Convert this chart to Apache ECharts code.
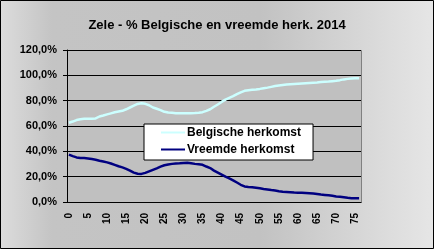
<!DOCTYPE html>
<html><head><meta charset="utf-8">
<script src="https://cdn.jsdelivr.net/npm/echarts@6/dist/echarts.min.js"></script>
<style>html,body{margin:0;padding:0;}#c{width:434px;height:249px;}</style>
</head><body><div id="c"></div>
<script>
var categories = [];
for (var a = 0; a <= 76; a++) categories.push(String(a));
var belgisch = [62.6,63.5,64.7,65.3,65.7,65.7,65.8,66,67.5,68.3,69.2,70,70.8,71.4,72,73.2,74.6,76,77.4,78,
77.5,76.4,74.6,73.6,72.5,71.2,70.6,70.4,70.1,70,70,70,70,70.2,70.5,70.9,72,73.2,75.2,77,
79,80.8,82.2,83.6,85.2,86.6,87.8,88.3,88.6,88.9,89.3,89.8,90.3,90.9,91.5,91.9,92.3,92.7,93,93.2,
93.4,93.6,93.8,94,94.2,94.4,94.7,94.9,95.1,95.4,95.7,96.2,96.8,97.2,97.5,97.6,97.6];
var vreemde = [37.4,36.2,35.2,34.7,34.7,34.4,33.9,33.4,32.6,32,31.3,30.4,29.3,28.2,27.3,26.2,24.8,23.2,22.3,22.2,
23,24.2,25.4,26.6,27.9,29,29.6,30.1,30.3,30.5,30.8,31,30.6,30.1,29.8,29.4,28,26.8,24.8,23.2,
21.6,20,18.6,17.1,15.4,13.6,12.3,11.9,11.6,11.2,10.8,10.3,9.9,9.4,9,8.5,8.1,7.9,7.7,7.5,
7.4,7.3,7.1,6.9,6.7,6.3,5.9,5.6,5.3,4.9,4.4,4.1,3.7,3.3,3.0,2.9,2.9];
var seriesNames = ['Belgische herkomst', 'Vreemde herkomst'];
var titleText = 'Zele - % Belgische en vreemde herk. 2014';

var chart = echarts.init(document.getElementById('c'), null, {renderer: 'canvas'});
var font = 'Arial, "Liberation Sans", sans-serif';
chart.setOption({
  animation: false,
  backgroundColor: new echarts.graphic.LinearGradient(0, 0, 1, 0, [
    {offset: 0, color: '#dcdcdc'}, {offset: 0.12, color: '#c4c4c4'}, {offset: 0.6, color: '#c2c2c2'}, {offset: 1, color: '#e6e6e6'}
  ]),
  title: {
    text: titleText, left: 'center', top: 14,
    textStyle: {fontFamily: font, fontSize: 13, fontWeight: 'bold', color: '#000'}
  },
  graphic: [
    {type: 'rect', shape: {x: 0.5, y: 0.5, width: 433, height: 248}, style: {fill: 'none', stroke: '#000', lineWidth: 1}, z: 100},
    {type: 'rect', shape: {x: 67.5, y: 50.5, width: 294, height: 152}, style: {fill: '#c0c0c0', stroke: '#808080', lineWidth: 1}, z: -1}
  ],
  legend: {
    orient: 'vertical', left: 144, top: 124, width: 170,
    backgroundColor: '#fff', borderColor: '#000', borderWidth: 1,
    padding: [2, 12, 4, 17], itemGap: 4, itemWidth: 24, itemHeight: 2, icon: 'rect',
    textStyle: {fontFamily: font, fontSize: 12, fontWeight: 'bold', color: '#000', padding: [0, 0, 0, -3], lineHeight: 13},
    data: seriesNames
  },
  grid: {left: 67, right: 73, top: 50, bottom: 47, containLabel: false},
  xAxis: {
    type: 'category', data: categories, boundaryGap: true,
    axisLine: {lineStyle: {color: '#000', width: 1}},
    axisTick: {interval: 0, length: 4, lineStyle: {color: '#000'}},
    axisLabel: {interval: 4, rotate: 90, margin: 11, fontFamily: font, fontSize: 10, fontWeight: 'bold', color: '#000'},
    splitLine: {show: false}
  },
  yAxis: {
    type: 'value', min: 0, max: 120, interval: 20,
    axisLine: {show: true, lineStyle: {color: '#000', width: 1}},
    axisTick: {show: true, length: 4, lineStyle: {color: '#000'}},
    axisLabel: {margin: 10, fontFamily: font, fontSize: 11, fontWeight: 'bold', color: '#000',
      formatter: function (v) { return v.toFixed(1).replace('.', ',') + '%'; }},
    splitLine: {show: true, lineStyle: {color: '#000', width: 1}}
  },
  series: [
    {name: seriesNames[0], type: 'line', data: belgisch, symbol: 'none', lineStyle: {color: '#ccffff', width: 2.5}, itemStyle: {color: '#ccffff'}},
    {name: seriesNames[1], type: 'line', data: vreemde, symbol: 'none', lineStyle: {color: '#000080', width: 2.5}, itemStyle: {color: '#000080'}}
  ]
});
</script>
</body></html>
